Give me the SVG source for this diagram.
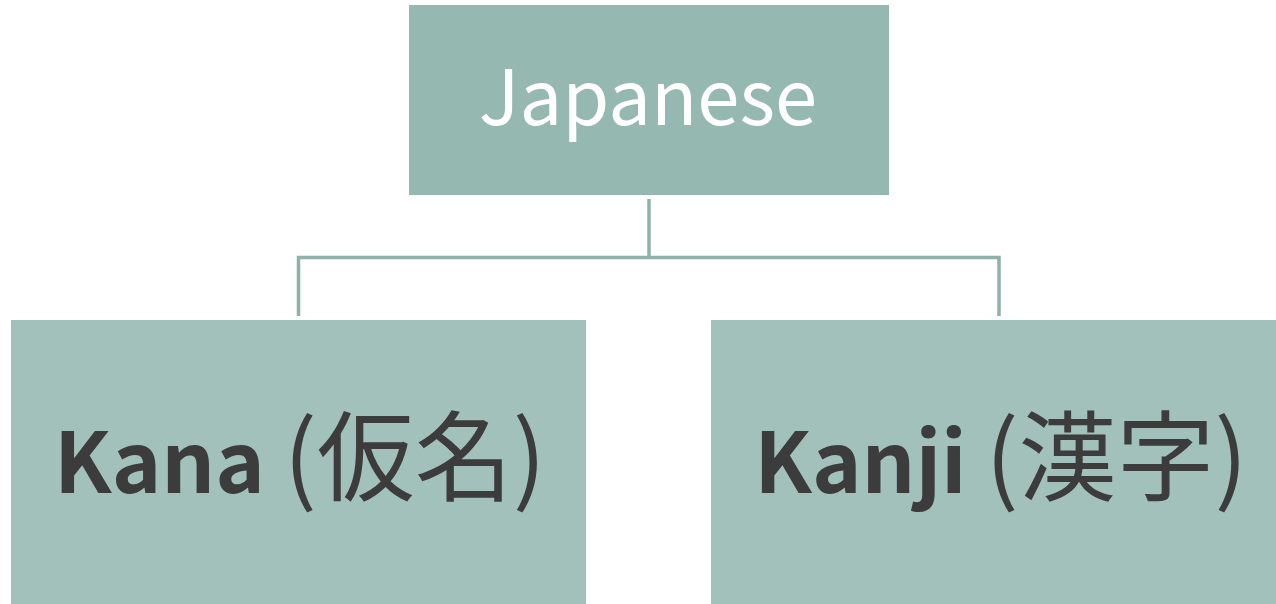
<svg xmlns="http://www.w3.org/2000/svg" width="1276" height="604" viewBox="0 0 1276 604">
<style>
.top{fill:#95b8b0}
.child{fill:#a2c1bb}
.conn{stroke:#8fb1a9;stroke-width:3.5;fill:none}
.t1{font-family:"Noto Sans CJK JP","Noto Sans",sans-serif;font-size:76px;fill:#ffffff;text-anchor:middle}
.t2{font-family:"Noto Sans CJK JP","Noto Sans",sans-serif;font-size:84px;fill:#3c3c3c;text-anchor:middle}
.b{font-weight:bold}
.cjk{font-size:98px}
</style>
<rect width="1276" height="604" fill="#ffffff"/>
<g id="connectors">
<path class="conn" d="M649,199 V257.5 M298.5,316 V257.5 H999 V316"/>
</g>
<g id="node-japanese">
<rect class="top" x="409" y="5" width="480" height="190"/>
<text class="t1" x="648" y="125">Japanese</text>
</g>
<g id="node-kana">
<rect class="child" x="11" y="320" width="575" height="284"/>
<text class="t2" x="300" y="493"><tspan class="b">Kana</tspan> <tspan class="cjk">(仮名)</tspan></text>
</g>
<g id="node-kanji">
<rect class="child" x="711" y="320" width="565" height="284"/>
<text class="t2" x="1001" y="493"><tspan class="b">Kanji</tspan> <tspan class="cjk">(漢字)</tspan></text>
</g>
</svg>
